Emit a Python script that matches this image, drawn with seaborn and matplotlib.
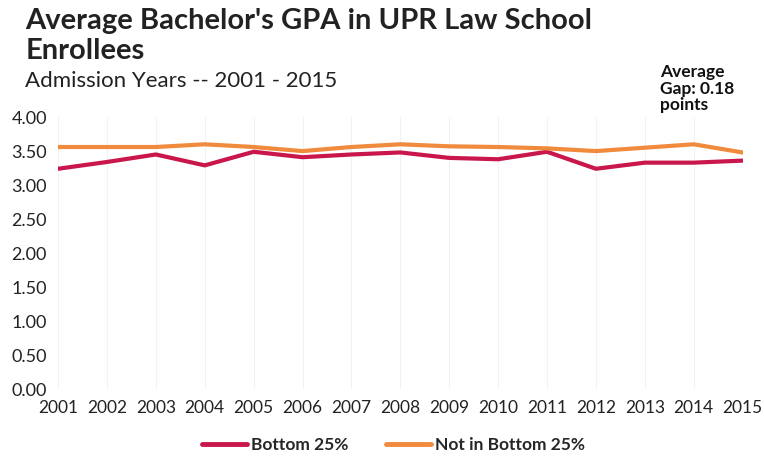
import numpy as np
import pandas as pd
import matplotlib.pyplot as plt
import seaborn as sns

years = list(range(2001, 2016))
bottom_25 = [3.24, 3.34, 3.45, 3.29, 3.49, 3.41, 3.45, 3.48, 3.40, 3.38, 3.49, 3.24, 3.33, 3.33, 3.36]
not_bottom_25 = [3.56, 3.56, 3.56, 3.60, 3.56, 3.50, 3.56, 3.60, 3.57, 3.56, 3.54, 3.50, 3.55, 3.60, 3.48]
y_ticks = [0, 0.5, 1, 1.5, 2, 2.5, 3, 3.5, 4]

df = pd.DataFrame({'Year': years, 'Bottom 25%': bottom_25, 'Not in Bottom 25%': not_bottom_25})
long_df = df.melt(id_vars='Year', var_name='Group', value_name='GPA')

sns.set_style('white')
plt.rcParams['font.family'] = ['Lato', 'DejaVu Sans']

fig = plt.figure(figsize=(7.64, 4.61), dpi=100)
ax = fig.add_axes([0.076, 0.156, 0.896, 0.59])

palette = {'Bottom 25%': '#c9174c', 'Not in Bottom 25%': '#f08a3c'}
sns.lineplot(data=long_df, x='Year', y='GPA', hue='Group', palette=palette,
             linewidth=3.0, ax=ax)

ax.set_xlim(2001, 2015)
ax.set_ylim(0, 4)
ax.set_xticks(years)
ax.set_xticklabels([str(y) for y in years], fontsize=12.5, color='#222222')
ax.set_yticks(y_ticks)
ax.set_yticklabels([f'{v:.2f}' for v in y_ticks], fontsize=13, color='#222222')
ax.tick_params(axis='both', length=0, pad=8)
ax.set_xlabel('')
ax.set_ylabel('')
for s in ax.spines.values():
    s.set_visible(False)
ax.grid(axis='x', color='#f2f2f2', linewidth=0.8)
ax.set_axisbelow(True)

leg = ax.legend(loc='upper center', bbox_to_anchor=(0.49, -0.12), ncol=2, frameon=False,
                prop={'size': 12.5, 'weight': 'bold'}, handlelength=2.6, columnspacing=2.2,
                handletextpad=0.2)
for line in leg.get_lines():
    line.set_linewidth(3.5)

fig.text(0.033, 0.955, "Average Bachelor's GPA in UPR Law School", fontsize=21,
         fontweight='bold', color='#222222', va='center')
fig.text(0.033, 0.89, "Enrollees", fontsize=21, fontweight='bold', color='#222222', va='center')
fig.text(0.033, 0.825, "Admission Years -- 2001 - 2015", fontsize=16, color='#222222', va='center')
fig.text(0.864, 0.808, "Average\nGap: 0.18\npoints", fontsize=12.5, fontweight='bold',
         color='#111111', va='center', ha='left', linespacing=1.05)

fig.savefig('out.png', dpi=100)
